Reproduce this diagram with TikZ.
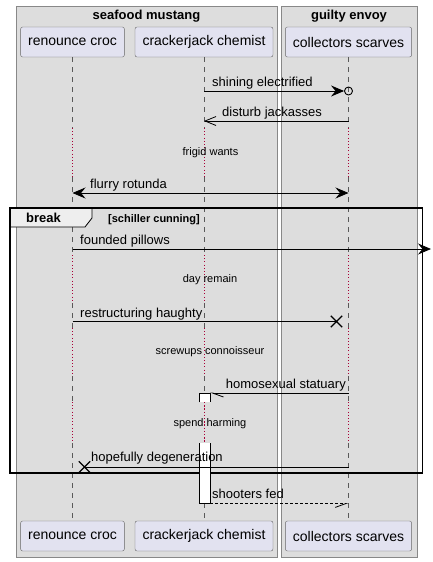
\documentclass[tikz,border=0pt]{standalone}
\usepackage{fontspec}
\setmainfont{Liberation Sans}
\usetikzlibrary{arrows.meta,shapes.misc}
\definecolor{groupfill}{HTML}{DDDDDD}
\definecolor{groupline}{HTML}{888888}
\definecolor{partfill}{HTML}{E2E2F0}
\definecolor{delayred}{HTML}{A80036}
\definecolor{tabfill}{HTML}{EEEEEE}
\tikzset{
  part/.style={draw=black!60, fill=partfill, rounded corners=2pt, minimum height=30pt,
    inner xsep=7.5pt, inner ysep=0pt, font=\fontsize{14}{16}\selectfont},
  lifeline/.style={draw=black!65, line width=0.5pt, dash pattern=on 5pt off 5pt},
  delay/.style={draw=delayred, line width=0.6pt, dash pattern=on 0.8pt off 2.4pt},
  msg/.style={line width=0.8pt},
  headfill/.style={-{Stealth[length=13pt,width=11pt,inset=4.5pt]}},
  lbl/.style={inner sep=0pt, anchor=base west, font=\fontsize{13}{15}\selectfont},
  delaytext/.style={inner sep=0pt, anchor=base, font=\fontsize{11}{13}\selectfont},
  xmark/.style={cross out, draw, line width=1.4pt, minimum size=10pt, inner sep=0pt},
  act/.style={fill=white, minimum width=11pt, inner sep=0pt, anchor=north},
}
\begin{document}
\begin{tikzpicture}[x=1pt, y=-1pt]
    \useasboundingbox (0,0) rectangle (432,562);

    \draw[draw=groupline, fill=groupfill] (16,6) rectangle (277,557);
    \draw[draw=groupline, fill=groupfill] (281,6) rectangle (417,557);
    \node[anchor=base, inner sep=0pt, font=\fontsize{13}{15}\selectfont\bfseries] (mustang) at (146.5,19.5) {seafood mustang};
    \node[anchor=base, inner sep=0pt, font=\fontsize{13}{15}\selectfont\bfseries] (envoy) at (349,19.5) {guilty envoy};

    \node[part] (croc) at (72.5,42) {renounce croc};
    \node[part] (chem) at (204,42) {crackerjack chemist};
    \node[part] (scarf) at (348.5,42) {collectors scarves};
    \node[part] (crocb) at (72.5,536) {renounce croc};
    \node[part] (chemb) at (204,536) {crackerjack chemist};
    \node[part] (scarfb) at (348.5,536) {collectors scarves};

    \foreach \p in {croc,chem,scarf}{
        \foreach \a/\b in {57/128,177/255,303/328,376/402,443/520}
            \draw[lifeline] (\p |- 0,\a) -- (\p |- 0,\b);
        \foreach \a/\b in {128/177,255/303,328/376,402/443}
            \draw[delay] (\p |- 0,\a) -- (\p |- 0,\b);
    }

    \node[delaytext] (frigid) at (210.5,155.5) {frigid wants};
    \node[delaytext] (dayrem) at (210,282.5) {day remain};
    \node[delaytext] (screw) at (210,354.5) {screwups connoisseur};
    \node[delaytext] (spend) at (210,426.5) {spend harming};

    \draw[fill=tabfill, line width=0.8pt] (10,208) -- (92,208) -- (92,218) -- (85,227) -- (10,227) -- cycle;
    \draw[line width=1.5pt] (10,208) rectangle (422.5,473);
    \node[anchor=base, inner sep=0pt, font=\fontsize{13}{15}\selectfont\bfseries] (brk) at (43.5,222.5) {break};
    \node[anchor=base, inner sep=0pt, font=\fontsize{11}{13}\selectfont\bfseries] (cond) at (154,222) {[schiller cunning]};

    \node[act, minimum height=9pt] (act1) at (204.5,393) {};
    \draw[line width=0.6pt] (act1.south west) -- (act1.north west) -- (act1.north east) -- (act1.south east);
    \node[act, minimum height=60pt] (act2) at (204.5,443) {};
    \draw[line width=0.6pt] (act2.north west) -- (act2.south west) -- (act2.south east) -- (act2.north east);
    \draw[delay] (act1.south) -- (act2.north);

    \node[circle, draw, line width=0.9pt, minimum size=8pt, inner sep=0pt] (ring) at (scarf |- 0,91) {};
    \draw[msg, headfill] (chem |- ring) -- (ring.west);
    \node[lbl] (shine) at (212,86) {shining electrified};

    \draw[msg, -{Straight Barb[length=11pt,width=9pt]}] (scarf |- 0,121) -- (chem |- 0,121);
    \node[lbl] (disturb) at (222,116.5) {disturb jackasses};

    \draw[msg, {Stealth[length=13pt,width=11pt,inset=4.5pt]}-{Stealth[length=13pt,width=11pt,inset=4.5pt]}] (croc |- 0,193) -- (scarf |- 0,193);
    \node[lbl] (flurry) at (90,188) {flurry rotunda};

    \coordinate (edge) at (431,249);
    \draw[msg, headfill] (croc |- edge) -- (edge);
    \node[lbl] (founded) at (80,244.5) {founded pillows};

    \node[xmark] (x1) at (336.5,321.5) {};
    \draw[msg] (croc |- x1) -- (x1.center);
    \node[lbl] (restruct) at (80,317) {restructuring haughty};

    \draw[msg, -{Straight Barb[harpoon,length=11pt,width=8pt]}] (scarf |- act1.north) -- (act1.north east);
    \node[lbl, anchor=base east] (homo) at (346,388.5) {homosexual statuary};

    \node[xmark] (x2) at (84.5,467) {};
    \draw[msg] (scarf |- x2) -- (x2.center);
    \node[lbl] (hope) at (91,461) {hopefully degeneration};

    \draw[msg, dash pattern=on 3pt off 2pt, -{Straight Barb[harpoon,swap,length=11pt,width=8pt]}] (act2.south east) -- (scarf |- act2.south);
    \node[lbl] (shoot) at (212,498.5) {shooters fed};
\end{tikzpicture}
\end{document}
